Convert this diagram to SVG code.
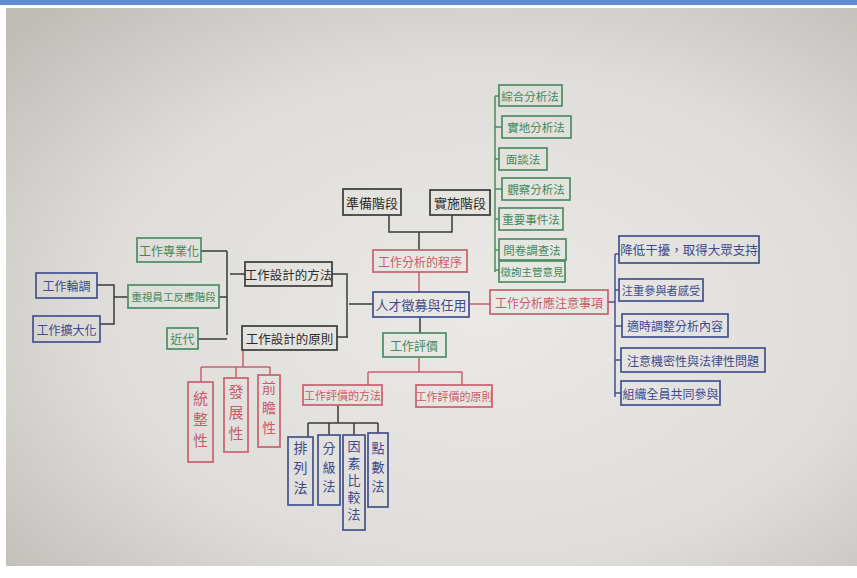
<svg xmlns="http://www.w3.org/2000/svg" width="857" height="578" viewBox="0 0 857 578">
<defs>
<radialGradient id="paper" cx="0.56" cy="0.55" r="0.75">
<stop offset="0" stop-color="#ebe9e5"/>
<stop offset="0.6" stop-color="#dfddd9"/>
<stop offset="1" stop-color="#c0bdb9"/>
</radialGradient>
<style>
rect.b{fill:none;stroke-width:1.7}
.k{stroke:#3a3a3a}
.r{stroke:#c9606e}
.g{stroke:#4a8d62}
.u{stroke:#44508c}
text{font-family:"Noto Sans CJK TC","Noto Sans CJK SC",sans-serif;text-anchor:middle;dominant-baseline:central}
.tk{fill:#2c2c2c}
.tr{fill:#c95b6b}
.tg{fill:#3e8a5a}
.tu{fill:#3d4a8e}
.v{writing-mode:vertical-rl;letter-spacing:6px}
#connectors path{fill:none;stroke-width:1.5}
</style>
</defs>
<rect width="857" height="578" fill="#ffffff"/>
<rect x="0" y="0" width="857" height="5" fill="#5b8fd0"/>
<rect x="6" y="8" width="851" height="558" fill="url(#paper)"/>

<g id="connectors">
<path class="k" d="M389 215V232H452V215M419 232V250"/>
<path class="r" d="M419 272V292"/>
<path class="g" d="M495 96V272M495 96H499M495 127H502M495 159H499M495 189H502M495 219H499M495 250H499M495 270H499"/>
<path class="r" d="M469 304H490"/>
<path class="u" d="M608 302H615M615 254V397M615 254H619M615 290H619M615 326H622M615 360H621M615 393H621"/>
<path class="k" d="M373 304H349M347 275V337M332 274H348M337 337H348"/>
<path class="k" d="M420 317V333"/>
<path class="r" d="M419 358V372M368 372H462M368 372V385M462 372V385"/>
<path class="k" d="M338 405V423M308 423H378M308 423V437M329 423V435M354 423V435M378 423V433"/>
<path class="r" d="M243 350V367M201 367H270M201 367V382M236 367V378M270 367V375"/>
<path class="k" d="M230 274H245M227 251V335M201 251H227M219 297H227M198 339H227"/>
<path class="k" d="M97 285H114V324H100M114 297H128"/>
</g>

<g id="n-prep"><rect class="b k" x="343" y="189" width="58" height="26"/><text class="tk" x="372" y="202" font-size="13">準備階段</text></g>
<g id="n-impl"><rect class="b k" x="430" y="190" width="60" height="25"/><text class="tk" x="460" y="202" font-size="13">實施階段</text></g>
<g id="n-proc"><rect class="b r" x="373" y="250" width="94" height="22"/><text class="tr" x="420" y="261" font-size="12">工作分析的程序</text></g>
<g id="n-root"><rect class="b u" x="373" y="292" width="96" height="25"/><text class="tu" x="421" y="304" font-size="13">人才徵募與任用</text></g>
<g id="n-eval"><rect class="b g" x="383" y="333" width="63" height="24"/><text class="tg" x="414" y="345" font-size="12">工作評價</text></g>

<g id="n-m1"><rect class="b g" x="499" y="85" width="63" height="21"/><text class="tg" x="530" y="95.5" font-size="11.5">綜合分析法</text></g>
<g id="n-m2"><rect class="b g" x="502" y="116" width="69" height="22"/><text class="tg" x="536" y="127" font-size="11.5">實地分析法</text></g>
<g id="n-m3"><rect class="b g" x="499" y="148" width="48" height="22"/><text class="tg" x="523" y="159" font-size="11.5">面談法</text></g>
<g id="n-m4"><rect class="b g" x="502" y="178" width="68" height="22"/><text class="tg" x="536" y="189" font-size="11.5">觀察分析法</text></g>
<g id="n-m5"><rect class="b g" x="499" y="208" width="64" height="22"/><text class="tg" x="531" y="219" font-size="11.5">重要事件法</text></g>
<g id="n-m6"><rect class="b g" x="499" y="239" width="67" height="21"/><text class="tg" x="532" y="249.5" font-size="11.5">問卷調查法</text></g>
<g id="n-m7"><rect class="b g" x="499" y="261" width="66" height="21"/><text class="tg" x="532" y="271.5" font-size="10.5">徵詢主管意見</text></g>

<g id="n-note"><rect class="b r" x="490" y="290" width="118" height="24"/><text class="tr" x="549" y="302" font-size="12">工作分析應注意事項</text></g>
<g id="n-n1"><rect class="b u" x="619" y="236" width="140" height="27"/><text class="tu" x="689" y="249.5" font-size="12.5">降低干擾，取得大眾支持</text></g>
<g id="n-n2"><rect class="b u" x="619" y="279" width="84" height="22"/><text class="tu" x="661" y="290" font-size="11.2">注重參與者感受</text></g>
<g id="n-n3"><rect class="b u" x="622" y="314" width="106" height="23"/><text class="tu" x="675" y="325.5" font-size="12">適時調整分析內容</text></g>
<g id="n-n4"><rect class="b u" x="621" y="348" width="144" height="24"/><text class="tu" x="693" y="360" font-size="12">注意機密性與法律性問題</text></g>
<g id="n-n5"><rect class="b u" x="621" y="381" width="99" height="24"/><text class="tu" x="670.5" y="393" font-size="12">組織全員共同參與</text></g>

<g id="n-dm"><rect class="b k" x="245" y="262" width="87" height="24"/><text class="tk" x="288.5" y="274" font-size="12.5">工作設計的方法</text></g>
<g id="n-dp"><rect class="b k" x="242" y="326" width="95" height="24"/><text class="tk" x="289.5" y="338" font-size="12.5">工作設計的原則</text></g>
<g id="n-spec"><rect class="b g" x="137" y="238" width="64" height="24"/><text class="tg" x="169" y="250" font-size="12">工作專業化</text></g>
<g id="n-resp"><rect class="b g" x="128" y="285" width="91" height="23"/><text class="tg" x="173.5" y="296.5" font-size="10.6">重視員工反應階段</text></g>
<g id="n-mod"><rect class="b g" x="167" y="328" width="31" height="21"/><text class="tg" x="182.5" y="338.5" font-size="12">近代</text></g>
<g id="n-rot"><rect class="b u" x="36" y="273" width="61" height="25"/><text class="tu" x="66.5" y="285.5" font-size="12">工作輪調</text></g>
<g id="n-enl"><rect class="b u" x="33" y="316" width="67" height="26"/><text class="tu" x="66.5" y="329" font-size="12">工作擴大化</text></g>

<g id="n-p1"><rect class="b r" x="188" y="382" width="25" height="80"/><text class="tr v" x="200.5" y="422" font-size="15">統整性</text></g>
<g id="n-p2"><rect class="b r" x="224" y="378" width="24" height="74"/><text class="tr v" x="236" y="415" font-size="15">發展性</text></g>
<g id="n-p3"><rect class="b r" x="258" y="375" width="22" height="72"/><text class="tr v" x="269" y="411" font-size="14">前瞻性</text></g>

<g id="n-em"><rect class="b r" x="303" y="385" width="79" height="20"/><text class="tr" x="342.5" y="395" font-size="11">工作評價的方法</text></g>
<g id="n-ep"><rect class="b r" x="416" y="385" width="76" height="22"/><text class="tr" x="454" y="396" font-size="11">工作評價的原則</text></g>

<g id="n-e1"><rect class="b u" x="288" y="437" width="25" height="68"/><text class="tu v" x="300.5" y="471" font-size="14">排列法</text></g>
<g id="n-e2"><rect class="b u" x="318" y="435" width="22" height="70"/><text class="tu v" x="329" y="470" font-size="13">分級法</text></g>
<g id="n-e3"><rect class="b u" x="343" y="435" width="22" height="95"/><text class="tu v" x="354" y="482.5" font-size="13" style="letter-spacing:4px">因素比較法</text></g>
<g id="n-e4"><rect class="b u" x="368" y="433" width="20" height="74"/><text class="tu v" x="378" y="470" font-size="13">點數法</text></g>
</svg>
